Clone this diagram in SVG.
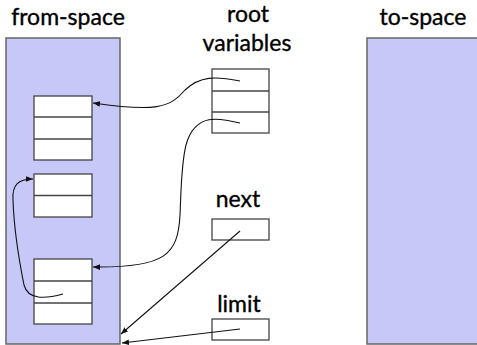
<svg xmlns="http://www.w3.org/2000/svg" width="477" height="345" viewBox="0 0 477 345">
<style>
.lbl{font-family:Lato,"Open Sans","Liberation Sans",sans-serif;font-size:23px;fill:#000;stroke:#000;stroke-width:0.35;text-anchor:middle}
.space{fill:#c8c8f8;stroke:#666;stroke-width:1.5}
.cell{fill:#fff;stroke:#444;stroke-width:1.3}
.div{stroke:#444;stroke-width:1.3}
.conn{fill:none;stroke:#111;stroke-width:1.1}
</style>
<defs>
<marker id="ah" viewBox="0 0 10 10" refX="10" refY="5" markerWidth="7" markerHeight="7" markerUnits="userSpaceOnUse" orient="auto">
<path d="M0,1 L10,5 L0,9 z" fill="#111"/>
</marker>
</defs>
<rect width="477" height="345" fill="#fff"/>
<g id="from-space">
<rect class="space" x="6" y="38" width="114" height="306"/>
<text class="lbl" x="68" y="25">from-space</text>
</g>
<g id="to-space">
<rect class="space" x="367" y="38" width="115" height="306"/>
<text class="lbl" x="423" y="25">to-space</text>
</g>
<g id="obj1">
<rect class="cell" x="34" y="96" width="58" height="64"/>
<line class="div" x1="34" y1="117" x2="92" y2="117"/>
<line class="div" x1="34" y1="139" x2="92" y2="139"/>
</g>
<g id="obj2">
<rect class="cell" x="34" y="174" width="58" height="43"/>
<line class="div" x1="34" y1="195.5" x2="92" y2="195.5"/>
</g>
<g id="obj3">
<rect class="cell" x="34" y="259" width="58" height="65"/>
<line class="div" x1="34" y1="281" x2="92" y2="281"/>
<line class="div" x1="34" y1="303" x2="92" y2="303"/>
</g>
<g id="root">
<text class="lbl" x="248" y="22">root</text>
<text class="lbl" x="247" y="51">variables</text>
<rect class="cell" x="212" y="69" width="57" height="64"/>
<line class="div" x1="212" y1="91" x2="269" y2="91"/>
<line class="div" x1="212" y1="112" x2="269" y2="112"/>
</g>
<g id="next">
<text class="lbl" x="238" y="207">next</text>
<rect class="cell" x="212" y="219" width="57" height="21"/>
</g>
<g id="limit">
<text class="lbl" x="239" y="312">limit</text>
<rect class="cell" x="212" y="319" width="57" height="21"/>
</g>
<g id="connectors">
<path class="conn" marker-end="url(#ah)" d="M240,81 C215,76 200,76 185,90 C170,108 155,112 93,103"/>
<path class="conn" marker-end="url(#ah)" d="M240,123 C220,118 195,112 186,145 C181,165 181,195 180,215 C178,255 165,268 93,267"/>
<path class="conn" marker-end="url(#ah)" d="M63,294 C45,299 28,300 24,285 C20,265 14,230 13,200 C12,185 18,179 33,179"/>
<path class="conn" marker-end="url(#ah)" d="M240,231 L121,334"/>
<path class="conn" marker-end="url(#ah)" d="M240,329 L122,343"/>
</g>
</svg>
